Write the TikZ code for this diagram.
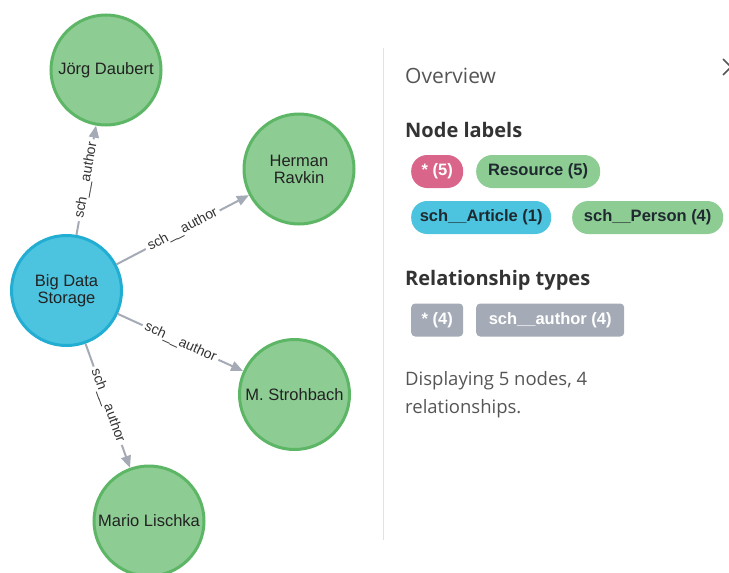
\documentclass[tikz,border=0pt]{standalone}
\usepackage{fontspec}
\setmainfont{Liberation Sans}
\newfontfamily\panelfont{Open Sans}
\usepackage{tikz}
\usetikzlibrary{arrows.meta}

\definecolor{persongreen}{HTML}{8DCC93}
\definecolor{persongreenline}{HTML}{5DB665}
\definecolor{articleblue}{HTML}{4CC4DF}
\definecolor{articleblueline}{HTML}{22ADD3}
\definecolor{relgray}{HTML}{A5ABB6}
\definecolor{starpink}{HTML}{D9668A}
\definecolor{inktext}{HTML}{222222}
\definecolor{pillink}{HTML}{1F2A30}
\definecolor{paneltext}{HTML}{333333}
\definecolor{panelgray}{HTML}{555555}
\definecolor{rulegray}{HTML}{E2E2E2}

\tikzset{
	person/.style={circle,draw=persongreenline,fill=persongreen,line width=3pt,
		minimum size=110pt,inner sep=0pt,align=center,text=inktext,
		font=\fontsize{16.5}{17}\selectfont},
	article/.style={person,draw=articleblueline,fill=articleblue},
	authoredge/.style={draw=relgray,line width=2pt,-{Triangle[length=12pt,width=10pt]}},
	authorlabel/.style={fill=white,inner sep=3pt,sloped,text=paneltext,
		font=\fontsize{14}{14}\selectfont},
	labelpill/.style={anchor=west,rounded corners=16pt,minimum height=33pt,inner sep=0pt,
		text=pillink,font=\fontsize{16.5}{16.5}\selectfont\bfseries},
	relpill/.style={labelpill,rounded corners=4pt,fill=relgray,text=white},
	heading/.style={anchor=base west,inner sep=0pt,text=paneltext,
		font=\panelfont\fontsize{20}{24}\selectfont\bfseries}
}

\begin{document}
\begin{tikzpicture}[x=1pt,y=-1pt]
	\useasboundingbox (0,0) rectangle (729,573);
	\clip (0,0) rectangle (729,573);
	% graph
	\node[article] (bd) at (66.5,290.5) {Big Data\\Storage};
	\node[person] (joerg) at (106,70) {Jörg Daubert};
	\node[person] (herman) at (299,169) {Herman\\Ravkin};
	\node[person] (strohbach) at (294.5,394.5) {M. Strohbach};
	\node[person] (lischka) at (149,521) {Mario Lischka};
	\foreach \t in {joerg,herman,strohbach,lischka}
		\draw[authoredge] (bd) -- node[authorlabel] {sch\_\_author} (\t);
	% overview panel
	\draw[color=rulegray,line width=1pt] (383,48)--(383,540);
	\draw[color=panelgray,line width=1.5pt] (723,59)--(739,75) (723,75)--(739,59);
	\node[anchor=base west,inner sep=0pt,text=panelgray,
		font=\panelfont\fontsize{21}{25}\selectfont] (overview) at (405,83) {Overview};
	\node[heading] (nodelabels) at (405,137) {Node labels};
	\node[labelpill,fill=starpink,text=white,minimum width=52pt] (allnodes) at (411,171.5) {* (5)};
	\node[labelpill,fill=persongreen,minimum width=124pt] (resource) at (476,171.5) {Resource (5)};
	\node[labelpill,fill=articleblue,minimum width=140pt] (articles) at (411,217.5) {sch\_\_Article (1)};
	\node[labelpill,fill=persongreen,minimum width=151pt] (persons) at (572,217.5) {sch\_\_Person (4)};
	\node[heading] (reltypes) at (405,285) {Relationship types};
	\node[relpill,minimum width=52pt] (allrels) at (411,320) {* (4)};
	\node[relpill,minimum width=148pt] (authors) at (476,320) {sch\_\_author (4)};
	\node[anchor=base west,inner sep=0pt,align=left,text=panelgray,
		font=\panelfont\fontsize{18.5}{28}\selectfont] (summary) at (405,413)
		{Displaying 5 nodes, 4\\relationships.};
\end{tikzpicture}
\end{document}
